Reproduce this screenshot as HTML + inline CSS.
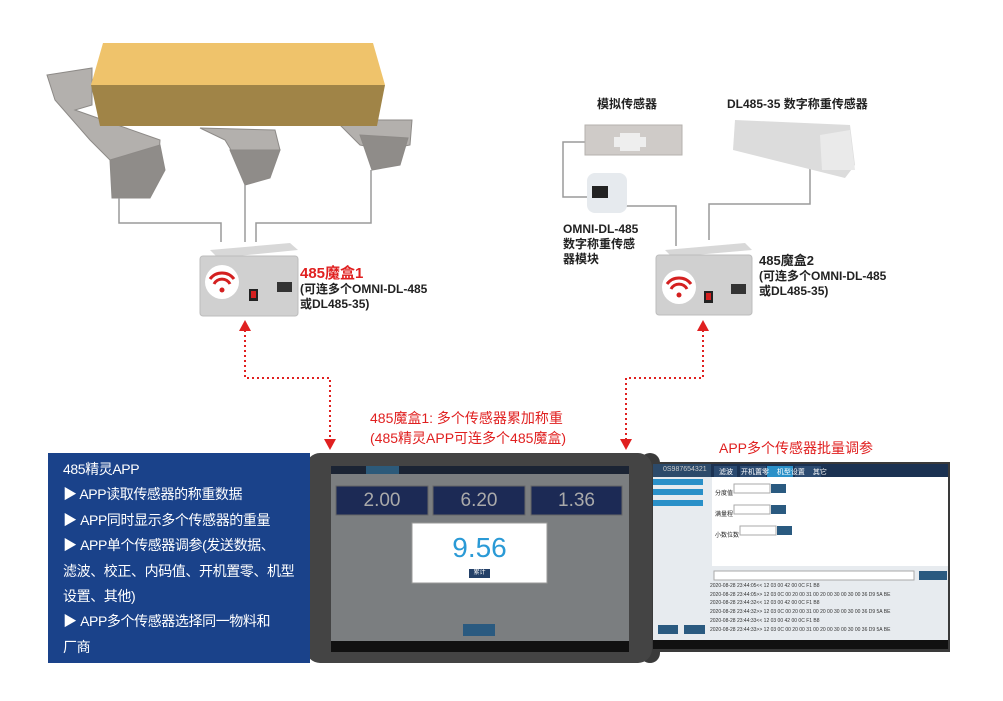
<!DOCTYPE html>
<html><head><meta charset="utf-8"><style>
body{margin:0;width:1003px;height:701px;background:#fff;position:relative;overflow:hidden;font-family:"Liberation Sans","Noto Sans CJK SC",sans-serif}
.a{position:absolute}
.lbl{font-weight:bold;font-size:12px;color:#222;line-height:16px}
.red{color:#e02020}
.blue{position:absolute;left:48px;top:453px;width:262px;height:210px;background:#1a428a;color:#fff;font-size:14px;letter-spacing:-0.4px;white-space:nowrap;line-height:25.4px;padding:4px 0 0 15px;box-sizing:border-box}
</style></head><body>
<svg class="a" style="left:0;top:0" width="1003" height="701">
<!-- plates -->
<g fill="#b3b0ad" stroke="#8d8a87" stroke-width="1">
<path d="M47,75 L92,68 L92,105 L75,110 L160,140 L158,170 L120,180 L110,160 L90,140 L55,100 Z"/>
<path d="M110,160 L160,145 L165,170 L150,198 L112,198 Z" fill="#8f8c89"/>
<path d="M200,128 L275,130 L280,150 L265,160 L240,165 L225,140 Z"/>
<path d="M230,150 L280,150 L270,178 L245,185 Z" fill="#8f8c89"/>
<path d="M345,120 L412,120 L410,145 L385,150 L360,145 L340,125 Z"/>
<path d="M360,135 L408,138 L400,165 L372,170 Z" fill="#8f8c89"/>
</g>
<!-- yellow box -->
<polygon points="103,43 373,43 385,85 91,85" fill="#efc36b"/>
<polygon points="91,85 385,85 377,126 100,126" fill="#a08447"/>
<!-- wires -->
<g fill="none" stroke="#9a9a9a" stroke-width="1.5">
<polyline points="119,198 119,223 221,223 221,242"/>
<polyline points="245,185 245,242"/>
<polyline points="371,170 371,223 256,223 256,242"/>
<polyline points="586,142 563,142 563,197 588,197"/>
<polyline points="612,206 676,206 676,246"/>
<polyline points="810,158 810,204 709,204 709,240"/>
</g>
<!-- sensors right -->
<rect x="585" y="125" width="97" height="30" fill="#cfcbc8" stroke="#b5b1ae"/>
<path d="M620,133 h20 v4 h6 v10 h-6 v4 h-20 v-4 h-6 v-10 h6z" fill="#eeeeee"/>
<polygon points="735,120 850,125 855,165 845,178 733,150" fill="#dcdcdc"/>
<polygon points="820,135 850,130 855,170 822,170" fill="#eaeaea"/>
<rect x="587" y="173" width="40" height="40" rx="8" fill="#e6eaee"/>
<rect x="592" y="186" width="16" height="12" fill="#222"/>
<!-- box 1 -->
<polygon points="210,250 290,243 298,250 218,258" fill="#d8d8d8"/>
<rect x="200" y="256" width="98" height="60" rx="3" fill="#d0d0d0" stroke="#bdbdbd"/>
<circle cx="222" cy="282" r="17" fill="#fff"/>
<path d="M210,279 a15,15 0 0 1 24,0 M214,284 a9,9 0 0 1 16,0" stroke="#d42020" stroke-width="3" fill="none"/>
<circle cx="222" cy="290" r="2.5" fill="#d42020"/>
<rect x="249" y="289" width="9" height="12" fill="#222"/><rect x="251" y="291" width="5" height="7" fill="#d42020"/>
<rect x="277" y="282" width="15" height="10" fill="#333"/>
<!-- box 2 -->
<polygon points="665,250 745,243 752,250 672,257" fill="#d8d8d8"/>
<rect x="656" y="255" width="96" height="60" rx="3" fill="#d0d0d0" stroke="#bdbdbd"/>
<circle cx="679" cy="287" r="17" fill="#fff"/>
<path d="M667,284 a15,15 0 0 1 24,0 M671,289 a9,9 0 0 1 16,0" stroke="#d42020" stroke-width="3" fill="none"/>
<circle cx="679" cy="295" r="2.5" fill="#d42020"/>
<rect x="704" y="291" width="9" height="12" fill="#222"/><rect x="706" y="293" width="5" height="7" fill="#d42020"/>
<rect x="731" y="284" width="15" height="10" fill="#333"/>
<!-- dotted red -->
<g fill="none" stroke="#e02020" stroke-width="2" stroke-dasharray="2,3">
<polyline points="245,330 245,378 330,378 330,440"/>
<polyline points="703,330 703,378 626,378 626,440"/>
</g>
<g fill="#e02020">
<polygon points="239,331 251,331 245,320"/><polygon points="697,331 709,331 703,320"/>
<polygon points="324,439 336,439 330,450"/><polygon points="620,439 632,439 626,450"/>
</g>
<!-- tablet 2 -->
<rect x="640" y="453" width="20" height="210" rx="10" fill="#3a3a3a"/>
<rect x="650" y="462" width="300" height="190" fill="#3a3a3a"/>
<rect x="653" y="464" width="295" height="185" fill="#e7ebef"/>
<rect x="712" y="477" width="236" height="89" fill="#fff"/>
<rect x="653" y="464" width="295" height="13" fill="#1b3252"/>
<rect x="653" y="464" width="58" height="13" fill="#2c4a6a"/>
<rect x="714" y="466" width="23" height="11" fill="#2b4a70"/><rect x="740" y="466" width="26" height="11" fill="#2b4a70"/><rect x="767" y="466" width="26" height="11" fill="#2a90c8"/><rect x="795" y="466" width="26" height="11" fill="#2b4a70"/>
<g fill="#2a90c8"><rect x="653" y="479" width="50" height="6"/><rect x="653" y="489" width="50" height="6"/><rect x="653" y="500" width="50" height="6"/></g>
<g fill="#2a5a80"><rect x="771" y="484" width="15" height="9"/><rect x="771" y="505" width="15" height="9"/><rect x="777" y="526" width="15" height="9"/><rect x="919" y="571" width="28" height="9"/><rect x="658" y="625" width="20" height="9"/><rect x="684" y="625" width="21" height="9"/></g>
<g fill="#fff" stroke="#aaa"><rect x="734" y="484" width="36" height="9"/><rect x="734" y="505" width="36" height="9"/><rect x="740" y="526" width="36" height="9"/><rect x="714" y="571" width="200" height="9"/></g>
<rect x="653" y="640" width="295" height="9" fill="#111"/>
<!-- tablet 1 -->
<rect x="306" y="453" width="346" height="210" rx="14" fill="#444"/>
<rect x="331" y="466" width="298" height="186" fill="#7b7e80"/>
<rect x="331" y="466" width="298" height="8" fill="#1b2434"/>
<rect x="366" y="466" width="33" height="8" fill="#2c5a7a"/>
<rect x="331" y="641" width="298" height="11" fill="#111"/>
<g fill="#1c2a55" stroke="#666"><rect x="336" y="486" width="92" height="29"/><rect x="433" y="486" width="92" height="29"/><rect x="531" y="486" width="91" height="29"/></g>
<rect x="412" y="523" width="135" height="60" fill="#fff" stroke="#999"/>
<rect x="469" y="569" width="21" height="9" fill="#234068"/>
<rect x="463" y="624" width="32" height="12" fill="#2a5a80"/>
</svg>
<div class="a lbl" style="left:597px;top:96px">模拟传感器</div>
<div class="a lbl" style="left:727px;top:96px">DL485-35 数字称重传感器</div>
<div class="a lbl" style="left:563px;top:222px;line-height:15px">OMNI-DL-485<br>数字称重传感<br>器模块</div>
<div class="a lbl" style="left:300px;top:266px;line-height:15px"><span class="red" style="font-size:15px">485魔盒1</span><br>(可连多个OMNI-DL-485<br>或DL485-35)</div>
<div class="a lbl" style="left:759px;top:253px;line-height:15px"><span style="font-size:13px">485魔盒2</span><br>(可连多个OMNI-DL-485<br>或DL485-35)</div>
<div class="a red" style="left:370px;top:408px;font-size:14px;line-height:20px">485魔盒1: 多个传感器累加称重<br>(485精灵APP可连多个485魔盒)</div>
<div class="a red" style="left:719px;top:438px;font-size:14px">APP多个传感器批量调参</div>
<div class="blue">485精灵APP<br>▶ APP读取传感器的称重数据<br>▶ APP同时显示多个传感器的重量<br>▶ APP单个传感器调参(发送数据、<br>滤波、校正、内码值、开机置零、机型<br>设置、其他)<br>▶ APP多个传感器选择同一物料和<br>厂商</div>
<div class="a" style="left:336px;top:486px;width:92px;text-align:center;color:#aaa;font-size:19px;line-height:29px">2.00</div>
<div class="a" style="left:433px;top:486px;width:92px;text-align:center;color:#aaa;font-size:19px;line-height:29px">6.20</div>
<div class="a" style="left:531px;top:486px;width:91px;text-align:center;color:#aaa;font-size:19px;line-height:29px">1.36</div>
<div class="a" style="left:412px;top:530px;width:135px;text-align:center;color:#2a9ad6;font-size:28px;line-height:36px">9.56</div>
<div class="a" style="left:469px;top:569px;width:21px;text-align:center;color:#fff;font-size:6px;line-height:9px">累计</div>
<div class="a" style="left:663px;top:466px;color:#ccc;font-size:7px">0S987654321</div>
<div class="a" style="left:719px;top:467px;color:#fff;font-size:7px;word-spacing:6px">滤波 开机置零 机型设置 其它</div>
<div class="a" style="left:715px;top:484px;color:#222;font-size:6px;line-height:21px">分度值<br>满量程<br>小数位数</div>
<div class="a" style="left:710px;top:582px;color:#333;font-size:5px;line-height:8.7px">2020-08-28 23:44:05<< 12 03 00 42 00 0C F1 B8<br>2020-08-28 23:44:05>> 12 03 0C 00 20 00 31 00 20 00 30 00 30 00 36 D9 5A BE<br>2020-08-28 23:44:32<< 12 03 00 42 00 0C F1 B8<br>2020-08-28 23:44:32>> 12 03 0C 00 20 00 31 00 20 00 30 00 30 00 36 D9 5A BE<br>2020-08-28 23:44:33<< 12 03 00 42 00 0C F1 B8<br>2020-08-28 23:44:33>> 12 03 0C 00 20 00 31 00 20 00 30 00 30 00 36 D9 5A BE</div>
</body></html>
